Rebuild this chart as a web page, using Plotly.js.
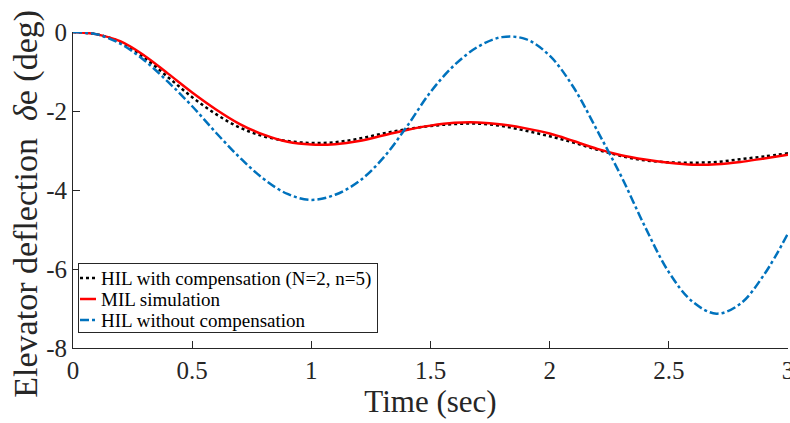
<!DOCTYPE html>
<html>
<head>
<meta charset="utf-8">
<script src="https://cdn.plot.ly/plotly-3.0.1.min.js"></script>
<style>html,body{margin:0;padding:0;background:#fff;}#chart{width:790px;height:423px;}</style>
</head>
<body>
<div id="chart"></div>
<script>
const timeSec = [0,0.1,0.2,0.3,0.4,0.5,0.6,0.7,0.8,0.9,1.0,1.1,1.2,1.3,1.4,1.5,1.6,1.7,1.8,1.9,2.0,2.1,2.2,2.3,2.4,2.5,2.6,2.7,2.8,2.9,3.0];
const hilWithComp = [0,-0.06,-0.26,-0.65,-1.15,-1.65,-2.08,-2.42,-2.64,-2.76,-2.81,-2.79,-2.70,-2.57,-2.46,-2.38,-2.33,-2.32,-2.38,-2.50,-2.64,-2.80,-2.98,-3.14,-3.25,-3.30,-3.31,-3.29,-3.22,-3.15,-3.07];
const milSim = [0,-0.06,-0.24,-0.60,-1.06,-1.53,-1.96,-2.33,-2.60,-2.78,-2.85,-2.84,-2.76,-2.62,-2.48,-2.37,-2.30,-2.29,-2.34,-2.44,-2.57,-2.76,-2.96,-3.12,-3.23,-3.31,-3.36,-3.35,-3.29,-3.20,-3.11];
const hilNoComp = [0,-0.06,-0.30,-0.72,-1.27,-1.88,-2.55,-3.18,-3.72,-4.10,-4.25,-4.12,-3.78,-3.20,-2.40,-1.52,-0.84,-0.37,-0.13,-0.18,-0.60,-1.40,-2.50,-3.65,-4.93,-6.08,-6.83,-7.13,-6.88,-6.14,-5.10];
const seriesNames = ['HIL with compensation (N=2, n=5)','MIL simulation','HIL without compensation'];
const xTicks = [0,0.5,1,1.5,2,2.5,3];
const xTickText = ['0','0.5','1','1.5','2','2.5','3'];
const yTicks = [0,-2,-4,-6,-8];
const yTickText = ['0','-2','-4','-6','-8'];
const xTitle = 'Time (sec)';
const yTitle = 'Elevator deflection&nbsp;&nbsp;<i>δ</i>e (deg)';

const serif = "'Liberation Serif', 'Times New Roman', serif";
const traces = [
  {x: timeSec, y: hilWithComp, name: seriesNames[0], mode: 'lines', line: {color: '#000000', width: 2.5, dash: 'dot', shape: 'spline'}},
  {x: timeSec, y: milSim, name: seriesNames[1], mode: 'lines', line: {color: '#FF0000', width: 2.5, shape: 'spline'}},
  {x: timeSec, y: hilNoComp, name: seriesNames[2], mode: 'lines', line: {color: '#0072BD', width: 2.5, dash: 'dashdot', shape: 'spline'}}
];
const layout = {
  width: 790, height: 423,
  margin: {l: 73, r: 2, t: 32, b: 75},
  paper_bgcolor: '#fff', plot_bgcolor: '#fff',
  font: {family: serif, color: '#262626'},
  showlegend: true,
  legend: {x: 0.007, y: 0.054, xanchor: 'left', yanchor: 'bottom', bgcolor: '#fff', bordercolor: '#262626', borderwidth: 1, font: {family: serif, size: 19, color: '#000'}, tracegroupgap: 0},
  xaxis: {
    range: [0, 3], tickvals: xTicks, ticktext: xTickText, ticks: 'inside', ticklen: 7, tickcolor: '#262626',
    showline: true, linecolor: '#262626', linewidth: 1, mirror: false, showgrid: false, zeroline: false,
    ticklabeloverflow: 'allow',
    tickfont: {family: serif, size: 25, color: '#262626'},
    title: {text: xTitle, font: {family: serif, size: 31, color: '#262626'}, standoff: 2}
  },
  yaxis: {
    range: [-8, 0], tickvals: yTicks, ticktext: yTickText, ticks: 'inside', ticklen: 7, tickcolor: '#262626',
    showline: true, linecolor: '#262626', linewidth: 1, mirror: false, showgrid: false, zeroline: false,
    ticklabeloverflow: 'allow',
    tickfont: {family: serif, size: 25, color: '#262626'}
  },
  annotations: [{
    text: yTitle, xref: 'paper', yref: 'paper', x: -0.067, y: 0.457,
    xanchor: 'center', yanchor: 'middle', textangle: -90, showarrow: false,
    font: {family: serif, size: 34, color: '#262626'}
  }]
};
Plotly.newPlot('chart', traces, layout, {displayModeBar: false, staticPlot: true}).then(function (gd) {
  // compact legend like the reference: short line samples, tighter rows
  const leg = gd.querySelector('g.legend');
  if (!leg) return;
  leg.setAttribute('transform', 'translate(78,263)');
  const bg = leg.querySelector('rect.bg');
  if (bg) { bg.setAttribute('width', 299); bg.setAttribute('height', 69); bg.setAttribute('x', 0); bg.setAttribute('y', 0); }
  const sb = leg.querySelector('g.scrollbox');
  if (sb) sb.setAttribute('transform', 'translate(0,0)');
  const groups = leg.querySelector('g.groups');
  if (groups) groups.setAttribute('transform', 'translate(0,0)');
  leg.querySelectorAll('g.traces').forEach(function (g, i) {
    g.setAttribute('transform', 'translate(0,' + (15 + 21 * i) + ')');
    g.querySelectorAll('g.legendlines path').forEach(function (p) { p.setAttribute('d', 'M2,0h16'); });
    const t = g.querySelector('text.legendtext');
    if (t) t.setAttribute('x', 23);
  });
});
</script>
</body>
</html>
